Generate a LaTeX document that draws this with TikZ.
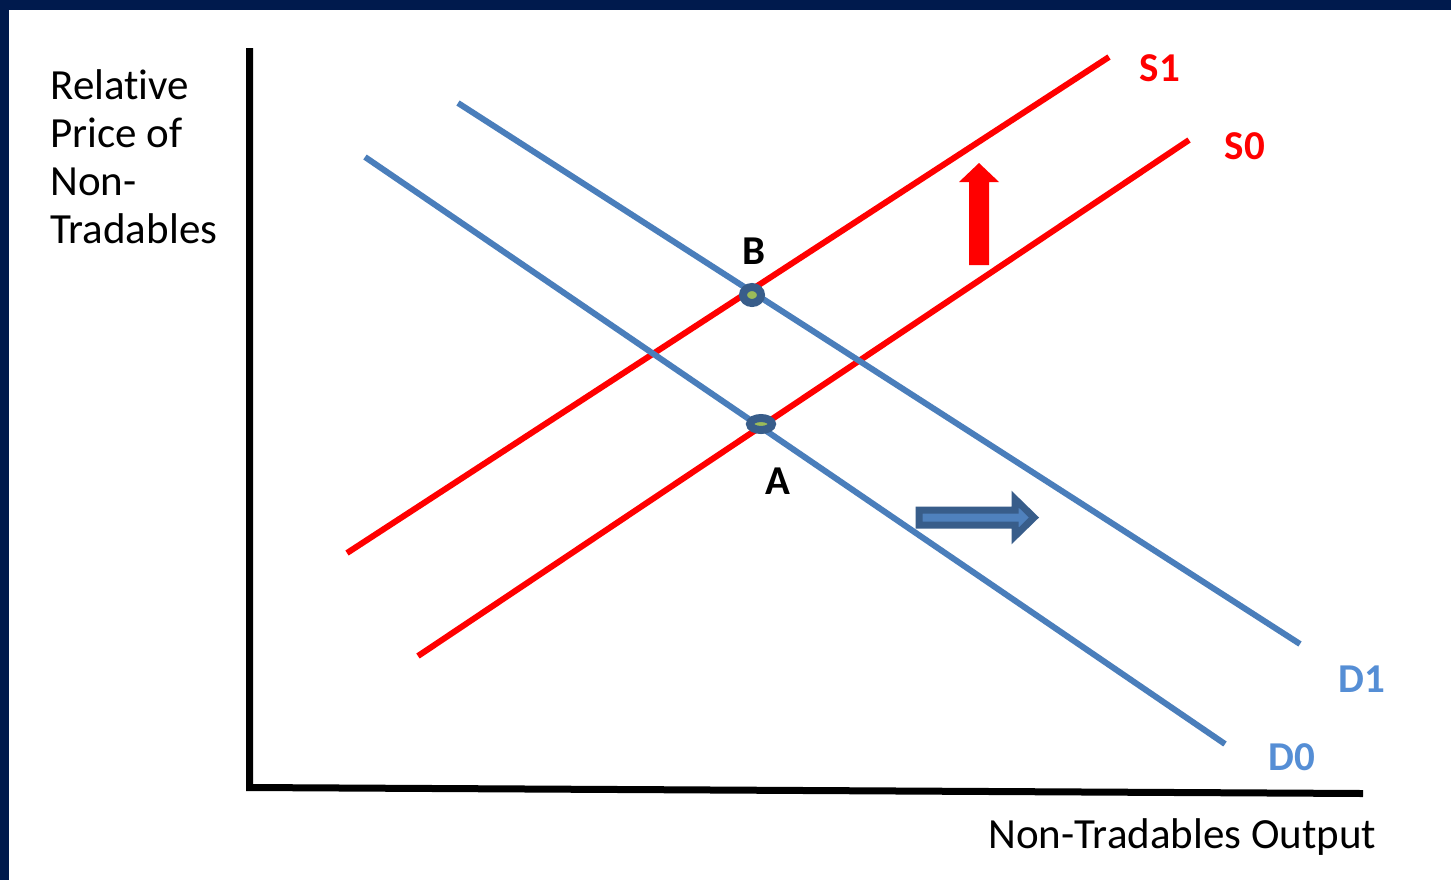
\documentclass[tikz,border=0pt]{standalone}
\usepackage{fontspec}
\setmainfont{Carlito}[Ligatures=NoCommon]
\usepackage{xcolor}
\usepackage{tikz}
\usetikzlibrary{shapes.geometric}

\definecolor{navy}{RGB}{0,26,77}
\definecolor{demblue}{RGB}{74,126,187}
\definecolor{demlab}{RGB}{85,142,213}
\definecolor{ptedge}{RGB}{56,93,138}
\definecolor{ptfill}{RGB}{155,187,89}
\definecolor{shiftfill}{RGB}{79,129,189}

\begin{document}
\begin{tikzpicture}[x=0.5pt,y=-0.5pt,
 every node/.style={inner sep=0pt},
 axis/.style={line width=3.5pt,black},
 supply/.style={line width=3pt,red},
 demand/.style={line width=3pt,demblue},
 pt/.style={ellipse,draw=ptedge,fill=ptfill,line width=4pt},
 lab/.style={font=\fontsize{20.5}{24}\selectfont\bfseries},
 axlab/.style={font=\fontsize{21.5}{24}\selectfont,align=left}]
% frame
\fill[navy] (0,0) rectangle (1451,880);
\fill[white] (9,10) rectangle (1451,880);
\useasboundingbox (0,0) rectangle (1451,880);
% axes
\coordinate (ytop) at (249.5,48);
\coordinate (orig) at (249.5,787.5);
\coordinate (xend) at (1363,793.5);
\draw[axis] (ytop) -- (orig) -- (xend);
\node[axlab,anchor=north west] (ylab) at (50,69) {Relative\\Price of\\Non-\\Tradables};
\node[axlab,anchor=base west] (xlab) at (988,848) {Non-Tradables Output};
% curves
\coordinate (s1a) at (347,553); \coordinate (s1b) at (1109,57);
\coordinate (s0a) at (418,656); \coordinate (s0b) at (1189,140);
\coordinate (d1a) at (458,103); \coordinate (d1b) at (1300,644);
\coordinate (d0a) at (365,157); \coordinate (d0b) at (1225,744);
\draw[supply] (s1a) -- (s1b);
\draw[supply] (s0a) -- (s0b);
\draw[demand] (d1a) -- (d1b);
\draw[demand] (d0a) -- (d0b);
\node[lab,red] (s1) at (1160,68) {S1};
\node[lab,red] (s0) at (1245,146) {S0};
\node[lab,demlab] (d1) at (1362,679) {D1};
\node[lab,demlab] (d0) at (1292,757) {D0};
% shift arrows
\fill[red] (969,265) -- (969,182) -- (959,182) -- (979,163) -- (999,182) -- (989,182) -- (989,265) -- cycle;
\draw[draw=ptedge,fill=shiftfill,line width=3.5pt,miter limit=4]
 (919,510) -- (1015,510) -- (1015,499) -- (1034,517.5) -- (1015,536) -- (1015,525) -- (919,525) -- cycle;
% equilibria
\node[pt,minimum width=9pt,minimum height=8pt] (B) at (752,295) {};
\node[pt,minimum width=11pt,minimum height=6pt] (A) at (761,424) {};
\node[lab] (Blab) at (754,251) {B};
\node[lab] (Alab) at (778,481) {A};
\end{tikzpicture}
\end{document}
